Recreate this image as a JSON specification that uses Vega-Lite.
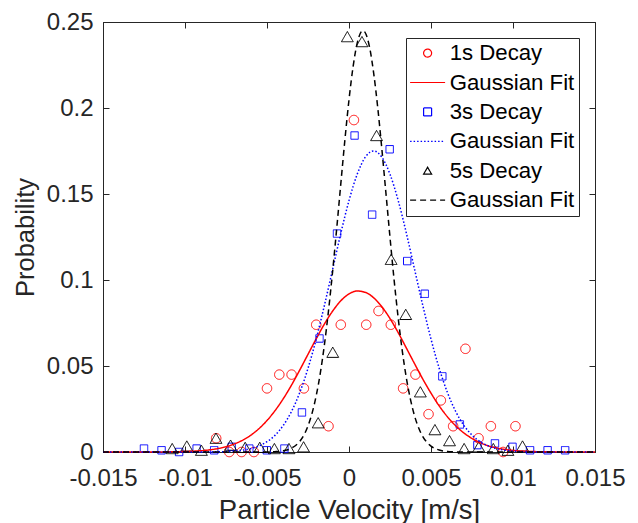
{
  "$schema": "https://vega.github.io/schema/vega-lite/v6.json",
  "width": 492,
  "height": 430,
  "autosize": {"type": "none"},
  "padding": {"left": 103, "top": 22, "right": 43, "bottom": 71},
  "background": "white",
  "config": {
    "font": "Liberation Sans",
    "view": {"stroke": "#262626", "strokeWidth": 1},
    "axis": {
      "grid": false,
      "domainColor": "#262626",
      "tickColor": "#262626",
      "labelColor": "#262626",
      "titleColor": "#262626",
      "labelFont": "Liberation Sans",
      "titleFont": "Liberation Sans",
      "labelFontSize": 24,
      "titleFontSize": 25.5,
      "titleFontWeight": "normal",
      "labelOverlap": false,
      "labelFlush": false,
      "labelBound": false,
      "tickSize": -6,
      "tickWidth": 1,
      "domainWidth": 1
    }
  },
  "datasets": {
    "pts": [
      {"s":"1s Decay","x":-0.0081,"y":0.008},
      {"s":"1s Decay","x":-0.0073,"y":0},
      {"s":"1s Decay","x":-0.00655,"y":0},
      {"s":"1s Decay","x":-0.0058,"y":0},
      {"s":"1s Decay","x":-0.005,"y":0.037},
      {"s":"1s Decay","x":-0.00425,"y":0.045},
      {"s":"1s Decay","x":-0.0035,"y":0.045},
      {"s":"1s Decay","x":-0.00275,"y":0.037},
      {"s":"1s Decay","x":-0.002,"y":0.074},
      {"s":"1s Decay","x":-0.00125,"y":0.015},
      {"s":"1s Decay","x":-0.0005,"y":0.074},
      {"s":"1s Decay","x":0.0003,"y":0.193},
      {"s":"1s Decay","x":0.00105,"y":0.074},
      {"s":"1s Decay","x":0.0018,"y":0.082},
      {"s":"1s Decay","x":0.00255,"y":0.074},
      {"s":"1s Decay","x":0.0033,"y":0.037},
      {"s":"1s Decay","x":0.00405,"y":0.045},
      {"s":"1s Decay","x":0.00485,"y":0.022},
      {"s":"1s Decay","x":0.0056,"y":0.03},
      {"s":"1s Decay","x":0.00635,"y":0.015},
      {"s":"1s Decay","x":0.0071,"y":0.06},
      {"s":"1s Decay","x":0.0079,"y":0.008},
      {"s":"1s Decay","x":0.00865,"y":0.015},
      {"s":"1s Decay","x":0.0094,"y":0},
      {"s":"1s Decay","x":0.01015,"y":0.015},
      {"s":"3s Decay","x":-0.0125,"y":0.002},
      {"s":"3s Decay","x":-0.01143,"y":0.001},
      {"s":"3s Decay","x":-0.01036,"y":0},
      {"s":"3s Decay","x":-0.00929,"y":0.002},
      {"s":"3s Decay","x":-0.00822,"y":0.001},
      {"s":"3s Decay","x":-0.00715,"y":0.003},
      {"s":"3s Decay","x":-0.00608,"y":0.002},
      {"s":"3s Decay","x":-0.00501,"y":0.001},
      {"s":"3s Decay","x":-0.00394,"y":0.002},
      {"s":"3s Decay","x":-0.00287,"y":0.023},
      {"s":"3s Decay","x":-0.0018,"y":0.066},
      {"s":"3s Decay","x":-0.00073,"y":0.127},
      {"s":"3s Decay","x":0.00034,"y":0.184},
      {"s":"3s Decay","x":0.00141,"y":0.138},
      {"s":"3s Decay","x":0.00248,"y":0.176},
      {"s":"3s Decay","x":0.00355,"y":0.111},
      {"s":"3s Decay","x":0.00462,"y":0.092},
      {"s":"3s Decay","x":0.00569,"y":0.044},
      {"s":"3s Decay","x":0.00676,"y":0.016},
      {"s":"3s Decay","x":0.00783,"y":0.004},
      {"s":"3s Decay","x":0.0089,"y":0.005},
      {"s":"3s Decay","x":0.00997,"y":0.003},
      {"s":"3s Decay","x":0.01104,"y":0.001},
      {"s":"3s Decay","x":0.01211,"y":0.001},
      {"s":"3s Decay","x":0.01318,"y":0.001},
      {"s":"5s Decay","x":-0.01078,"y":0.002},
      {"s":"5s Decay","x":-0.00989,"y":0.0035},
      {"s":"5s Decay","x":-0.009,"y":0.001},
      {"s":"5s Decay","x":-0.00811,"y":0.008},
      {"s":"5s Decay","x":-0.00722,"y":0.004},
      {"s":"5s Decay","x":-0.00633,"y":0.0027},
      {"s":"5s Decay","x":-0.00544,"y":0.0027},
      {"s":"5s Decay","x":-0.00455,"y":0.002},
      {"s":"5s Decay","x":-0.00366,"y":0.002},
      {"s":"5s Decay","x":-0.00277,"y":0.003},
      {"s":"5s Decay","x":-0.00188,"y":0.017},
      {"s":"5s Decay","x":-0.00099,"y":0.058},
      {"s":"5s Decay","x":-0.0001,"y":0.2415},
      {"s":"5s Decay","x":0.00079,"y":0.2386},
      {"s":"5s Decay","x":0.00168,"y":0.184},
      {"s":"5s Decay","x":0.00257,"y":0.112},
      {"s":"5s Decay","x":0.00346,"y":0.08},
      {"s":"5s Decay","x":0.00435,"y":0.035},
      {"s":"5s Decay","x":0.00524,"y":0.013},
      {"s":"5s Decay","x":0.00613,"y":0.0066},
      {"s":"5s Decay","x":0.00702,"y":0.002},
      {"s":"5s Decay","x":0.00791,"y":0.003},
      {"s":"5s Decay","x":0.0088,"y":0.002},
      {"s":"5s Decay","x":0.00969,"y":0.001},
      {"s":"5s Decay","x":0.01058,"y":0.0035}
    ],
    "fits": [
      {"s":"1s Fit","x":-0.015,"y":0},
      {"s":"1s Fit","x":-0.012,"y":0.00002},
      {"s":"1s Fit","x":-0.011,"y":0.00009},
      {"s":"1s Fit","x":-0.01,"y":0.00027},
      {"s":"1s Fit","x":-0.0095,"y":0.00046},
      {"s":"1s Fit","x":-0.009,"y":0.00077},
      {"s":"1s Fit","x":-0.0085,"y":0.00126},
      {"s":"1s Fit","x":-0.008,"y":0.002},
      {"s":"1s Fit","x":-0.0075,"y":0.00308},
      {"s":"1s Fit","x":-0.007,"y":0.00464},
      {"s":"1s Fit","x":-0.0065,"y":0.0068},
      {"s":"1s Fit","x":-0.006,"y":0.0097},
      {"s":"1s Fit","x":-0.0055,"y":0.0135},
      {"s":"1s Fit","x":-0.005,"y":0.0183},
      {"s":"1s Fit","x":-0.0045,"y":0.0242},
      {"s":"1s Fit","x":-0.004,"y":0.0311},
      {"s":"1s Fit","x":-0.0035,"y":0.039},
      {"s":"1s Fit","x":-0.003,"y":0.0477},
      {"s":"1s Fit","x":-0.0025,"y":0.0568},
      {"s":"1s Fit","x":-0.002,"y":0.0658},
      {"s":"1s Fit","x":-0.0015,"y":0.0744},
      {"s":"1s Fit","x":-0.001,"y":0.0819},
      {"s":"1s Fit","x":-0.0005,"y":0.0879},
      {"s":"1s Fit","x":0,"y":0.0919},
      {"s":"1s Fit","x":0.0005,"y":0.0936},
      {"s":"1s Fit","x":0.001,"y":0.0928},
      {"s":"1s Fit","x":0.0015,"y":0.0897},
      {"s":"1s Fit","x":0.002,"y":0.0845},
      {"s":"1s Fit","x":0.0025,"y":0.0776},
      {"s":"1s Fit","x":0.003,"y":0.0694},
      {"s":"1s Fit","x":0.0035,"y":0.0604},
      {"s":"1s Fit","x":0.004,"y":0.0513},
      {"s":"1s Fit","x":0.0045,"y":0.0424},
      {"s":"1s Fit","x":0.005,"y":0.0342},
      {"s":"1s Fit","x":0.0055,"y":0.0268},
      {"s":"1s Fit","x":0.006,"y":0.0205},
      {"s":"1s Fit","x":0.0065,"y":0.0153},
      {"s":"1s Fit","x":0.007,"y":0.0111},
      {"s":"1s Fit","x":0.0075,"y":0.0079},
      {"s":"1s Fit","x":0.008,"y":0.0054},
      {"s":"1s Fit","x":0.0085,"y":0.0036},
      {"s":"1s Fit","x":0.009,"y":0.0024},
      {"s":"1s Fit","x":0.0095,"y":0.0015},
      {"s":"1s Fit","x":0.01,"y":0.00094},
      {"s":"1s Fit","x":0.011,"y":0.00034},
      {"s":"1s Fit","x":0.012,"y":0.00011},
      {"s":"1s Fit","x":0.015,"y":0},
      {"s":"3s Fit","x":-0.015,"y":0},
      {"s":"3s Fit","x":-0.009,"y":0.00003},
      {"s":"3s Fit","x":-0.008,"y":0.00013},
      {"s":"3s Fit","x":-0.007,"y":0.00054},
      {"s":"3s Fit","x":-0.0065,"y":0.00105},
      {"s":"3s Fit","x":-0.006,"y":0.00194},
      {"s":"3s Fit","x":-0.0055,"y":0.00347},
      {"s":"3s Fit","x":-0.005,"y":0.00596},
      {"s":"3s Fit","x":-0.0045,"y":0.00982},
      {"s":"3s Fit","x":-0.004,"y":0.01556},
      {"s":"3s Fit","x":-0.0035,"y":0.02368},
      {"s":"3s Fit","x":-0.003,"y":0.03463},
      {"s":"3s Fit","x":-0.0025,"y":0.04865},
      {"s":"3s Fit","x":-0.002,"y":0.06568},
      {"s":"3s Fit","x":-0.0015,"y":0.0852},
      {"s":"3s Fit","x":-0.001,"y":0.1061},
      {"s":"3s Fit","x":-0.0005,"y":0.1271},
      {"s":"3s Fit","x":0,"y":0.1462},
      {"s":"3s Fit","x":0.0005,"y":0.1615},
      {"s":"3s Fit","x":0.001,"y":0.1715},
      {"s":"3s Fit","x":0.0015,"y":0.175},
      {"s":"3s Fit","x":0.002,"y":0.1715},
      {"s":"3s Fit","x":0.0025,"y":0.1615},
      {"s":"3s Fit","x":0.003,"y":0.1462},
      {"s":"3s Fit","x":0.0035,"y":0.1271},
      {"s":"3s Fit","x":0.004,"y":0.1061},
      {"s":"3s Fit","x":0.0045,"y":0.0852},
      {"s":"3s Fit","x":0.005,"y":0.06568},
      {"s":"3s Fit","x":0.0055,"y":0.04865},
      {"s":"3s Fit","x":0.006,"y":0.03463},
      {"s":"3s Fit","x":0.0065,"y":0.02368},
      {"s":"3s Fit","x":0.007,"y":0.01556},
      {"s":"3s Fit","x":0.0075,"y":0.00982},
      {"s":"3s Fit","x":0.008,"y":0.00596},
      {"s":"3s Fit","x":0.0085,"y":0.00347},
      {"s":"3s Fit","x":0.009,"y":0.00194},
      {"s":"3s Fit","x":0.0095,"y":0.00105},
      {"s":"3s Fit","x":0.01,"y":0.00054},
      {"s":"3s Fit","x":0.011,"y":0.00013},
      {"s":"3s Fit","x":0.012,"y":0.00003},
      {"s":"3s Fit","x":0.015,"y":0},
      {"s":"5s Fit","x":-0.015,"y":0},
      {"s":"5s Fit","x":-0.006,"y":0},
      {"s":"5s Fit","x":-0.005,"y":0.00005},
      {"s":"5s Fit","x":-0.0045,"y":0.0002},
      {"s":"5s Fit","x":-0.004,"y":0.00072},
      {"s":"5s Fit","x":-0.0035,"y":0.00224},
      {"s":"5s Fit","x":-0.003,"y":0.00621},
      {"s":"5s Fit","x":-0.00275,"y":0.00985},
      {"s":"5s Fit","x":-0.0025,"y":0.01516},
      {"s":"5s Fit","x":-0.00225,"y":0.0226},
      {"s":"5s Fit","x":-0.002,"y":0.0327},
      {"s":"5s Fit","x":-0.00175,"y":0.0458},
      {"s":"5s Fit","x":-0.0015,"y":0.0623},
      {"s":"5s Fit","x":-0.00125,"y":0.0821},
      {"s":"5s Fit","x":-0.001,"y":0.1049},
      {"s":"5s Fit","x":-0.00075,"y":0.1299},
      {"s":"5s Fit","x":-0.0005,"y":0.1559},
      {"s":"5s Fit","x":-0.00025,"y":0.1815},
      {"s":"5s Fit","x":0,"y":0.2048},
      {"s":"5s Fit","x":0.00025,"y":0.2241},
      {"s":"5s Fit","x":0.0005,"y":0.2377},
      {"s":"5s Fit","x":0.00075,"y":0.2444},
      {"s":"5s Fit","x":0.00085,"y":0.245},
      {"s":"5s Fit","x":0.001,"y":0.2436},
      {"s":"5s Fit","x":0.00125,"y":0.2355},
      {"s":"5s Fit","x":0.0015,"y":0.2206},
      {"s":"5s Fit","x":0.00175,"y":0.2004},
      {"s":"5s Fit","x":0.002,"y":0.1765},
      {"s":"5s Fit","x":0.00225,"y":0.1507},
      {"s":"5s Fit","x":0.0025,"y":0.1248},
      {"s":"5s Fit","x":0.00275,"y":0.1001},
      {"s":"5s Fit","x":0.003,"y":0.0779},
      {"s":"5s Fit","x":0.00325,"y":0.0587},
      {"s":"5s Fit","x":0.0035,"y":0.0429},
      {"s":"5s Fit","x":0.00375,"y":0.0305},
      {"s":"5s Fit","x":0.004,"y":0.0209},
      {"s":"5s Fit","x":0.00425,"y":0.0139},
      {"s":"5s Fit","x":0.0045,"y":0.009},
      {"s":"5s Fit","x":0.00475,"y":0.00564},
      {"s":"5s Fit","x":0.005,"y":0.00342},
      {"s":"5s Fit","x":0.0055,"y":0.00115},
      {"s":"5s Fit","x":0.006,"y":0.00034},
      {"s":"5s Fit","x":0.0065,"y":0.00009},
      {"s":"5s Fit","x":0.007,"y":0.00002},
      {"s":"5s Fit","x":0.008,"y":0},
      {"s":"5s Fit","x":0.015,"y":0}
    ]
  },
  "resolve": {"axis": {"x": "independent", "y": "independent"}},
  "layer": [
    {
      "data": {"name": "pts"},
      "mark": {"type": "point", "filled": false, "strokeWidth": 1, "opacity": 1},
      "encoding": {
        "x": {
          "field": "x", "type": "quantitative",
          "scale": {"domain": [-0.015, 0.015], "nice": false, "zero": false},
          "axis": {
            "orient": "bottom",
            "values": [-0.015, -0.01, -0.005, 0, 0.005, 0.01, 0.015],
            "labelExpr": "replace(format(datum.value,'~g'),'\u2212','-')",
            "labelPadding": 20,
            "title": "Particle Velocity [m/s]",
            "titleFontSize": 27.5,
            "titlePadding": 6
          }
        },
        "y": {
          "field": "y", "type": "quantitative",
          "scale": {"domain": [0, 0.25], "nice": false},
          "axis": {
            "orient": "left",
            "values": [0, 0.05, 0.1, 0.15, 0.2, 0.25],
            "labelExpr": "format(datum.value,'~g')",
            "labelPadding": 16,
            "title": "Probability",
            "titlePadding": 8
          }
        },
        "size": {
          "condition": [
            {"test": "datum.s === '1s Decay'", "value": 90},
            {"test": "datum.s === '5s Decay'", "value": 140}
          ],
          "value": 55
        },
        "color": {
          "field": "s", "type": "nominal",
          "scale": {
            "domain": ["1s Decay", "1s Fit", "3s Decay", "3s Fit", "5s Decay", "5s Fit"],
            "range": ["#ff0000", "#ff0000", "#0000ff", "#0000ff", "#000000", "#000000"]
          },
          "legend": {
            "title": null, "orient": "none", "legendX": 303, "legendY": 16,
            "labelExpr": "indexof(datum.label,'Fit') >= 0 ? 'Gaussian Fit' : datum.label",
            "labelFont": "Liberation Sans", "labelFontSize": 22.2, "labelColor": "#000000",
            "labelOffset": 11, "symbolOffset": 6.5, "symbolSize": 64, "symbolStrokeWidth": 1.2,
            "rowPadding": 6.4, "padding": 4, "strokeColor": "#262626", "fillColor": "#ffffff"
          }
        },
        "shape": {
          "field": "s", "type": "nominal",
          "scale": {
            "domain": ["1s Decay", "1s Fit", "3s Decay", "3s Fit", "5s Decay", "5s Fit"],
            "range": ["circle", "M-4.375,0H4.375", "square", "M-4.375,0H4.375", "triangle-up", "M-4.375,0H4.375"]
          },
          "legend": {
            "title": null, "orient": "none", "legendX": 303, "legendY": 16,
            "labelExpr": "indexof(datum.label,'Fit') >= 0 ? 'Gaussian Fit' : datum.label",
            "labelFont": "Liberation Sans", "labelFontSize": 22.2, "labelColor": "#000000",
            "labelOffset": 11, "symbolOffset": 6.5, "symbolSize": 64, "symbolStrokeWidth": 1.2,
            "rowPadding": 6.4, "padding": 4, "strokeColor": "#262626", "fillColor": "#ffffff"
          }
        },
        "strokeDash": {
          "field": "s", "type": "nominal",
          "scale": {
            "domain": ["1s Decay", "1s Fit", "3s Decay", "3s Fit", "5s Decay", "5s Fit"],
            "range": [[1, 0], [1, 0], [1, 0], [1.5, 2], [1, 0], [6, 4]]
          },
          "legend": {
            "title": null, "orient": "none", "legendX": 303, "legendY": 16,
            "labelExpr": "indexof(datum.label,'Fit') >= 0 ? 'Gaussian Fit' : datum.label",
            "labelFont": "Liberation Sans", "labelFontSize": 22.2, "labelColor": "#000000",
            "labelOffset": 11, "symbolOffset": 6.5, "symbolSize": 64, "symbolStrokeWidth": 1.2,
            "rowPadding": 6.4, "padding": 4, "strokeColor": "#262626", "fillColor": "#ffffff"
          }
        }
      }
    },
    {
      "data": {"name": "fits"},
      "mark": {"type": "line", "strokeWidth": 1.5, "interpolate": "monotone"},
      "encoding": {
        "x": {
          "field": "x", "type": "quantitative",
          "scale": {"domain": [-0.015, 0.015], "nice": false, "zero": false},
          "axis": {"orient": "top", "labels": false, "title": null, "domain": false,
                   "values": [-0.015, -0.01, -0.005, 0, 0.005, 0.01, 0.015]}
        },
        "y": {
          "field": "y", "type": "quantitative",
          "scale": {"domain": [0, 0.25], "nice": false},
          "axis": {"orient": "right", "labels": false, "title": null, "domain": false,
                   "values": [0, 0.05, 0.1, 0.15, 0.2, 0.25]}
        },
        "color": {"field": "s", "type": "nominal", "legend": null},
        "strokeDash": {"field": "s", "type": "nominal", "legend": null}
      }
    }
  ]
}
